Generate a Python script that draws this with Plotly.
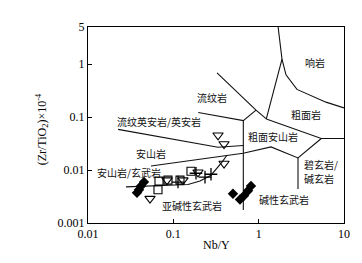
import math
import plotly.graph_objects as go

# ---- field boundary lines (Nb/Y, Zr/TiO2*1e-4) ----
phonolite_x = [1.69, 1.877, 2.09, 2.81, 6.15, 10.0]
phonolite_y = [5.0, 1.236, 0.627, 0.332, 0.191, 0.1485]

trachyte_left_x = [1.877, 1.229]
trachyte_left_y = [1.236, 0.092]

compant_x = [0.325, 0.931, 1.229]
compant_y = [0.682, 0.1346, 0.092]

rhyolite_low_x = [0.196, 0.661, 0.931]
rhyolite_low_y = [0.1216, 0.0856, 0.1346]

vertical_ab_x = [0.661, 0.661]
vertical_ab_y = [0.0856, 0.00176]

rhyodacite_low_x = [0.0225, 0.334, 0.661]
rhyodacite_low_y = [0.0585, 0.0269, 0.029]

andesite_low_x = [0.0547, 0.658, 1.395, 2.89, 5.42]
andesite_low_y = [0.01194, 0.0207, 0.0273, 0.01688, 0.0394]

trachyte_low_x = [1.229, 5.42, 10.0]
trachyte_low_y = [0.092, 0.0394, 0.0394]

btn_x = [2.89, 2.89]
btn_y = [0.01688, 0.0044]

subab_x = [0.0279, 0.1486, 0.2054, 0.2764, 0.3718, 0.423]
subab_y = [0.0048, 0.00533, 0.00618, 0.00798, 0.0141, 0.01877]

# ---- samples ----
square_x = [0.0679, 0.0661, 0.0866, 0.1197, 0.161]
square_y = [0.00618, 0.00423, 0.00645, 0.00645, 0.00945]

triangle_x = [0.334, 0.3927, 0.3927, 0.0533, 0.0844, 0.1298, 0.1945]
triangle_y = [0.0453, 0.031, 0.01327, 0.00288, 0.00645, 0.00645, 0.00906]

plus_x = [0.1134, 0.1843, 0.235, 0.2764]
plus_y = [0.00593, 0.00869, 0.00733, 0.00832]

diamond_x = [0.0453, 0.0418, 0.0396, 0.0375, 0.5, 0.604, 0.673, 0.75, 0.813]
diamond_y = [0.00593, 0.0050, 0.00423, 0.00372, 0.00356, 0.00277, 0.00327, 0.00405, 0.0050]

# ---- field names ----
field_names = ["响岩", "流纹岩", "粗面岩", "流纹英安岩/英安岩", "粗面安山岩", "安山岩",
               "安山岩/玄武岩", "亚碱性玄武岩", "碱性玄武岩", "碧玄岩/", "碱玄岩"]
field_x = [4.57, 0.284, 3.59, 0.0679, 1.472, 0.0547, 0.0302, 0.1655, 1.98, 5.38, 5.10]
field_y = [1.088, 0.2366, 0.1104, 0.082, 0.0435, 0.0207, 0.00906, 0.00214, 0.00277, 0.0126, 0.0068]

x_ticks = [0.01, 0.1, 1, 10]
x_ticklabels = ["0.01", "0.1", "1", "10"]
y_ticks = [0.001, 0.01, 0.1, 1, 5]
y_ticklabels = ["0.001", "0.01", "0.1", "1", "5"]

fig = go.Figure()
lines = [
    (phonolite_x, phonolite_y), (trachyte_left_x, trachyte_left_y), (compant_x, compant_y),
    (rhyolite_low_x, rhyolite_low_y), (vertical_ab_x, vertical_ab_y),
    (rhyodacite_low_x, rhyodacite_low_y), (andesite_low_x, andesite_low_y),
    (trachyte_low_x, trachyte_low_y), (btn_x, btn_y), (subab_x, subab_y),
]
for lx, ly in lines:
    fig.add_trace(go.Scatter(x=lx, y=ly, mode="lines",
                             line=dict(color="#111111", width=1.1),
                             hoverinfo="skip", showlegend=False))

fig.add_trace(go.Scatter(x=square_x, y=square_y, mode="markers", showlegend=False,
                         marker=dict(symbol="square-open", size=8, color="black",
                                     line=dict(width=1.1, color="black"))))
fig.add_trace(go.Scatter(x=triangle_x, y=triangle_y, mode="markers", showlegend=False,
                         marker=dict(symbol="triangle-down-open", size=9, color="black",
                                     line=dict(width=1.1, color="black"))))
fig.add_trace(go.Scatter(x=plus_x, y=plus_y, mode="markers", showlegend=False,
                         marker=dict(symbol="cross-thin", size=9, color="black",
                                     line=dict(width=1.3, color="black"))))
fig.add_trace(go.Scatter(x=diamond_x, y=diamond_y, mode="markers", showlegend=False,
                         marker=dict(symbol="diamond", size=8, color="black",
                                     line=dict(width=0))))

cjk = "Noto Sans CJK SC"
for t, tx, ty in zip(field_names, field_x, field_y):
    fig.add_annotation(x=math.log10(tx), y=math.log10(ty), xref="x", yref="y", text=t,
                       showarrow=False, font=dict(family=cjk, size=10, color="#111111"))

serif = "Liberation Serif"
fig.add_annotation(x=-0.219, y=0.48, xref="paper", yref="paper",
                   text="(Zr/TiO<sub>2</sub>)×10<sup>-4</sup>", textangle=-90,
                   showarrow=False, font=dict(family=serif, size=12, color="black"))
fig.add_annotation(x=0.5, y=-0.16, xref="paper", yref="paper", text="Nb/Y",
                   showarrow=False, font=dict(family=serif, size=12, color="black"))

fig.update_xaxes(type="log", range=[-2, 1], tickvals=x_ticks, ticktext=x_ticklabels,
                 showline=True, linecolor="black", linewidth=1, mirror=True,
                 ticks="inside", ticklen=4, tickcolor="black", showgrid=False,
                 zeroline=False, tickfont=dict(family=serif, size=12, color="black"))
fig.update_yaxes(type="log", range=[-3, math.log10(5)], tickvals=y_ticks,
                 ticktext=y_ticklabels, showline=True, linecolor="black", linewidth=1,
                 mirror=True, ticks="inside", ticklen=4, tickcolor="black",
                 showgrid=False, zeroline=False,
                 tickfont=dict(family=serif, size=12, color="black"))
fig.update_layout(width=362, height=263, margin=dict(l=80, r=26, t=14, b=48),
                  paper_bgcolor="white", plot_bgcolor="white", showlegend=False)
fig.write_html("out.html")
